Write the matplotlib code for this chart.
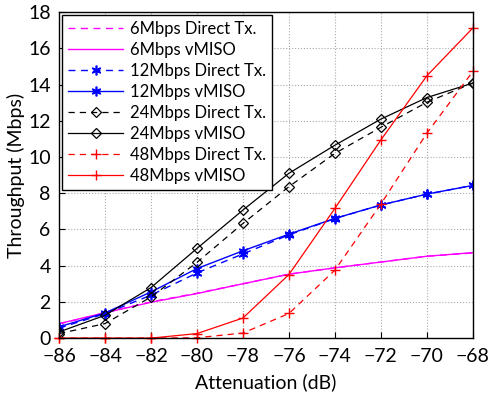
import matplotlib
matplotlib.use('Agg')
import matplotlib.pyplot as plt

plt.rcParams['font.family'] = ['Lato', 'DejaVu Sans']

atten = [-86, -84, -82, -80, -78, -76, -74, -72, -70, -68]

# 6 Mbps
tp6_direct = [0.78, 1.40, 2.00, 2.48, 3.00, 3.53, 3.88, 4.20, 4.52, 4.70]
tp6_vmiso = [0.80, 1.40, 1.98, 2.46, 3.00, 3.53, 3.88, 4.20, 4.52, 4.72]

# 12 Mbps
tp12_direct = [0.55, 1.35, 2.37, 3.60, 4.65, 5.70, 6.60, 7.35, 7.95, 8.43]
tp12_vmiso = [0.62, 1.39, 2.55, 3.84, 4.82, 5.74, 6.61, 7.35, 7.95, 8.43]

# 24 Mbps
tp24_direct = [0.25, 0.80, 2.27, 4.18, 6.33, 8.36, 10.20, 11.64, 13.02, 14.08]
tp24_vmiso = [0.34, 1.26, 2.79, 4.95, 7.07, 9.10, 10.65, 12.09, 13.28, 14.08]

# 48 Mbps
tp48_direct = [0.0, 0.0, 0.0, 0.02, 0.28, 1.36, 3.75, 7.40, 11.31, 14.72]
tp48_vmiso = [0.0, 0.0, 0.0, 0.25, 1.11, 3.51, 7.16, 10.94, 14.48, 17.12]

fig = plt.figure(figsize=(4.92, 4.03), dpi=100)
ax = fig.add_axes([0.12, 0.161, 0.841, 0.809])

ast = (6, 2, 0)
ax.plot(atten, tp6_direct, '--', color='#ff00ff', lw=1, dashes=(5, 4), label='6Mbps Direct Tx.')
ax.plot(atten, tp6_vmiso, '-', color='#ff00ff', lw=1, label='6Mbps vMISO')
ax.plot(atten, tp12_direct, '--', color='blue', lw=1, dashes=(5, 4), marker=ast, ms=7, mew=1.2,
        label='12Mbps Direct Tx.')
ax.plot(atten, tp12_vmiso, '-', color='blue', lw=1, marker=ast, ms=7, mew=1.2, label='12Mbps vMISO')
ax.plot(atten, tp24_direct, '--', color='black', lw=0.9, dashes=(5, 4), marker='D', ms=5,
        mfc='none', mew=0.9, label='24Mbps Direct Tx.')
ax.plot(atten, tp24_vmiso, '-', color='black', lw=0.9, marker='D', ms=5,
        mfc='none', mew=0.9, label='24Mbps vMISO')
ax.plot(atten, tp48_direct, '--', color='red', lw=0.9, dashes=(5, 4), marker='+', ms=7,
        clip_on=False, label='48Mbps Direct Tx.')
ax.plot(atten, tp48_vmiso, '-', color='red', lw=0.9, marker='+', ms=7,
        clip_on=False, label='48Mbps vMISO')

ax.set_xlim(-86, -68)
ax.set_ylim(0, 18)
ax.set_xticks(atten)
ax.set_yticks(range(0, 19, 2))
ax.tick_params(direction='in', labelsize=14, length=4, width=0.8)
ax.tick_params(axis='x', pad=7)
ax.tick_params(axis='y', pad=6)
ax.grid(True, linestyle=':', color='#aaaaaa', lw=0.8)
for s in ax.spines.values():
    s.set_linewidth(1)

ax.set_xlabel('Attenuation (dB)', fontsize=14, labelpad=6)
ax.set_ylabel('Throughput (Mbps)', fontsize=14, labelpad=2)

leg = ax.legend(loc='upper left', fontsize=12, frameon=True, fancybox=False,
                edgecolor='black', framealpha=1, handlelength=3.3,
                borderpad=0.35, labelspacing=0.3, borderaxespad=0.2, handletextpad=0.4)
leg.get_frame().set_linewidth(1)

fig.savefig('out.png', dpi=100)
